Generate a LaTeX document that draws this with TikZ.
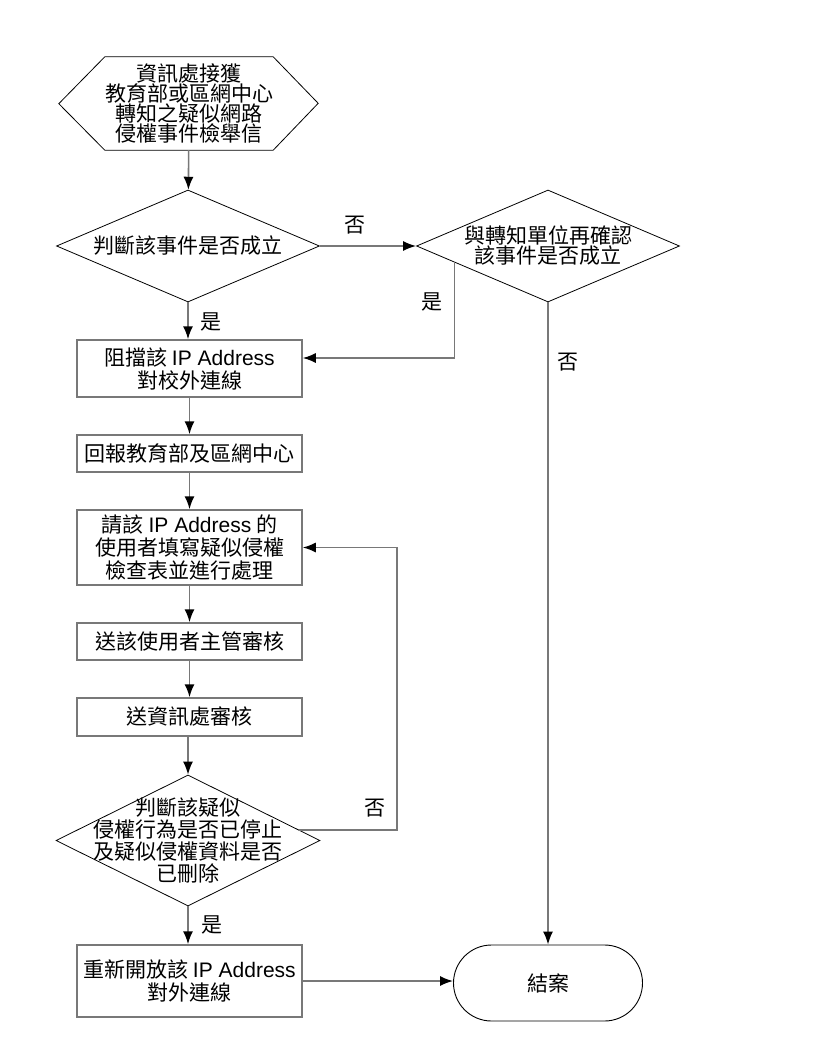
\documentclass[tikz,border=0pt]{standalone}
\usepackage{fontspec}
\setmainfont{Liberation Sans}
\newfontfamily\cjk{Noto Sans CJK TC}
\newfontfamily\lat{Liberation Sans}
\usetikzlibrary{shapes.geometric, arrows.meta, calc, positioning}
\definecolor{linegray}{RGB}{120,120,120}
\newcommand{\ipa}{{\lat IP Address}}
\tikzset{
  flow/.style={draw=linegray, line width=1.6pt, -{Latex[length=13pt,width=10pt,color=black]}},
  procbox/.style={draw=linegray, line width=1.5pt, minimum width=225pt, inner sep=0pt,
    align=center, font=\cjk\fontsize{21}{23}\selectfont},
  decision/.style={diamond, draw, line width=0.8pt, inner sep=0pt, minimum width=263pt},
  words/.style={align=center, inner sep=0pt, font=\cjk\fontsize{21}{20}\selectfont},
  answer/.style={inner sep=0pt, font=\cjk\fontsize{21}{20}\selectfont},
}
\begin{document}
\begin{tikzpicture}[x=1pt,y=-1pt]
  \useasboundingbox (0,0) rectangle (816,1056);
  % start
  \node [words, minimum width=136pt, minimum height=93pt] (start) at (189,103.5)
    {資訊處接獲\\教育部或區網中心\\轉知之疑似網路\\侵權事件檢舉信};
  \draw [line width=0.8pt] (start.north west) -- (start.north east) -- ++(45,46.5)
    -- (start.south east) -- (start.south west) -- ++(-46,-46.5) -- cycle;
  % decisions
  \node [decision, minimum height=112pt] (judge) at (188,246) {};
  \node [words] (judgetxt) at (judge) {判斷該事件是否成立};
  \node [decision, minimum height=112pt] (confirm) at (548,246) {};
  \node [words] (confirmtxt) at (confirm) {與轉知單位再確認\\該事件是否成立};
  % steps
  \node [procbox, minimum height=57pt] (block) at (189.5,368.5) {阻擋該 \ipa\\對校外連線};
  \node [procbox, minimum height=37pt] (report) at (189.5,453.5) {回報教育部及區網中心};
  \node [procbox, minimum height=75pt] (fill) at (189.5,547.5)
    {請該 \ipa\ 的\\使用者填寫疑似侵權\\檢查表並進行處理};
  \node [procbox, minimum height=37pt] (boss) at (189.5,641.5) {送該使用者主管審核};
  \node [procbox, minimum height=38pt] (office) at (189.5,717) {送資訊處審核};
  \node [decision, minimum width=264pt, minimum height=131pt] (check) at (188,840.5) {};
  \node [words, font=\cjk\fontsize{21}{22}\selectfont] (checktxt) at (check)
    {判斷該疑似\\侵權行為是否已停止\\及疑似侵權資料是否\\已刪除};
  \node [procbox, minimum height=72pt] (reopen) at (189.5,981) {重新開放該 \ipa\\對外連線};
  \node [draw, line width=0.9pt, rounded corners=38pt, minimum width=189pt, minimum height=76pt,
    font=\cjk\fontsize{21}{20}\selectfont] (close) at (548,983) {結案};
  % connectors
  \draw [flow] (start) -- (judge);
  \draw [flow] (judge) -- (confirm);
  \draw [flow] (judge.south) -- (judge.south |- block.north);
  \draw [flow] ($(confirm.west)!0.29!(confirm.south)$) |- ([yshift=10.5pt]block.east);
  \draw [flow] (confirm) -- (close);
  \draw [flow] (block.south) -- (report.north);
  \draw [flow] (report) -- (fill);
  \draw [flow] (fill) -- (boss);
  \draw [flow] (boss) -- (office);
  \draw [flow] (office.south -| check.north) -- (check.north);
  \draw [flow] (check.south) -- (check.south |- reopen.north);
  \draw [flow] (reopen.east) -- (reopen.east -| close.west);
  \coordinate (loopx) at (397,0);
  \draw [flow] ($(check.north)!0.84!(check.east)$) -| (loopx |- fill.east) -- (fill.east);
  % answers
  \node [answer] (no1) at (355,225) {否};
  \node [answer] (yes1) at (211,322) {是};
  \node [answer] (yes2) at (432,302) {是};
  \node [answer] (no2) at (568,362) {否};
  \node [answer] (no3) at (375,808) {否};
  \node [answer] (yes3) at (212,925) {是};
\end{tikzpicture}
\end{document}
